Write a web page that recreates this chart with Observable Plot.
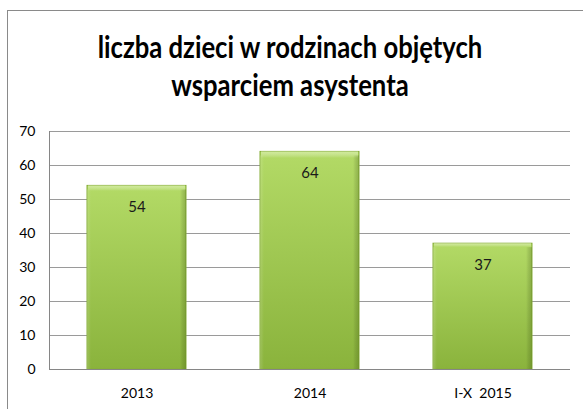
<!DOCTYPE html>
<html>
<head>
<meta charset="utf-8">
<script src="https://cdn.jsdelivr.net/npm/d3@7"></script>
<script src="https://cdn.jsdelivr.net/npm/@observablehq/plot@0.6"></script>
<style>
  html, body { margin: 0; padding: 0; background: #fff; }
  #wrap { position: relative; width: 583px; height: 409px; overflow: hidden; background: #fff; }
  #frame { position: absolute; left: 7px; top: 10px; width: 600px; height: 420px; border-left: 1.5px solid #8a8a8a; border-top: 1.5px solid #8a8a8a; box-sizing: border-box; }
  #title { position: absolute; left: 0; top: 28px; width: 580px; text-align: center; font-family: Lato, "Open Sans", sans-serif; font-weight: bold; font-size: 29.5px; line-height: 38px; color: #000; transform: scaleX(0.87); transform-origin: 290px 0; white-space: nowrap; }
  #chart { position: absolute; left: 0; top: 0; }
</style>
</head>
<body>
<div id="wrap">
  <div id="frame"></div>
  <div id="chart"></div>
  <div id="title">liczba dzieci w rodzinach objętych<br>wsparciem asystenta</div>
</div>
<script>
const categories = ["2013", "2014", "I-X  2015"];
const values = [54, 64, 37];
const yTicks = [0, 10, 20, 30, 40, 50, 60, 70];

const data = categories.map((c, i) => ({category: c, value: values[i]}));

const chart = Plot.plot({
  width: 583,
  height: 409,
  marginLeft: 49,
  marginRight: 13,
  marginTop: 131,
  marginBottom: 40,
  style: {fontFamily: "Lato, 'Open Sans', sans-serif", fontSize: "14px", color: "#000", background: "transparent"},
  x: {domain: categories, paddingInner: 0.43, paddingOuter: 0.215, label: null},
  y: {domain: [0, 70], ticks: yTicks, label: null},
  marks: [
    Plot.gridY(yTicks, {stroke: "#9a9a9a", strokeOpacity: 1, strokeWidth: 1}),
    Plot.axisY(yTicks, {tickSize: 0, tickPadding: 14, label: null, fontSize: 14}),
    Plot.axisX({tickSize: 0, tickPadding: 19, label: null, fontSize: 14}),
    Plot.barY(data, {x: "category", y: "value", fill: "url(#barGrad)", stroke: "#86ad38", strokeWidth: 1}),
    Plot.barY(data, {x: "category", y: "value", fill: "url(#barSide)", insetTop: 4}),
    Plot.barY(data, {x: "category", y: "value", fill: "url(#barTop)", insetLeft: 1, insetRight: 1}),
    Plot.ruleY([0], {stroke: "#868686", strokeWidth: 1}),
    Plot.text(data, {x: "category", y: "value", text: d => String(d.value), dy: 21, fill: "#1a1a1a", fontSize: 15})
  ]
});

const svg = d3.select(chart);
const defs = svg.insert("defs", ":first-child");
const g1 = defs.append("linearGradient").attr("id", "barGrad").attr("x1", 0).attr("y1", 0).attr("x2", 0).attr("y2", 1);
g1.append("stop").attr("offset", "0%").attr("stop-color", "#b3da66");
g1.append("stop").attr("offset", "100%").attr("stop-color", "#8ab33c");
const g2 = defs.append("linearGradient").attr("id", "barSide").attr("x1", 0).attr("y1", 0).attr("x2", 1).attr("y2", 0);
g2.append("stop").attr("offset", "0%").attr("stop-color", "#ffffff").attr("stop-opacity", 0.15);
g2.append("stop").attr("offset", "4%").attr("stop-color", "#ffffff").attr("stop-opacity", 0);
g2.append("stop").attr("offset", "94%").attr("stop-color", "#000000").attr("stop-opacity", 0);
g2.append("stop").attr("offset", "100%").attr("stop-color", "#2e4a00").attr("stop-opacity", 0.25);
const g3 = defs.append("linearGradient").attr("id", "barTop").attr("x1", 0).attr("y1", 0).attr("x2", 0).attr("y2", 1).attr("gradientUnits", "objectBoundingBox");
g3.append("stop").attr("offset", "0%").attr("stop-color", "#e4f5bf").attr("stop-opacity", 0.6);
g3.append("stop").attr("offset", "3%").attr("stop-color", "#ffffff").attr("stop-opacity", 0);
g3.append("stop").attr("offset", "100%").attr("stop-color", "#ffffff").attr("stop-opacity", 0);
svg.append("line").attr("x1", 49.5).attr("x2", 49.5).attr("y1", 131).attr("y2", 369).attr("stroke", "#868686");

document.getElementById("chart").appendChild(chart);
</script>
</body>
</html>
